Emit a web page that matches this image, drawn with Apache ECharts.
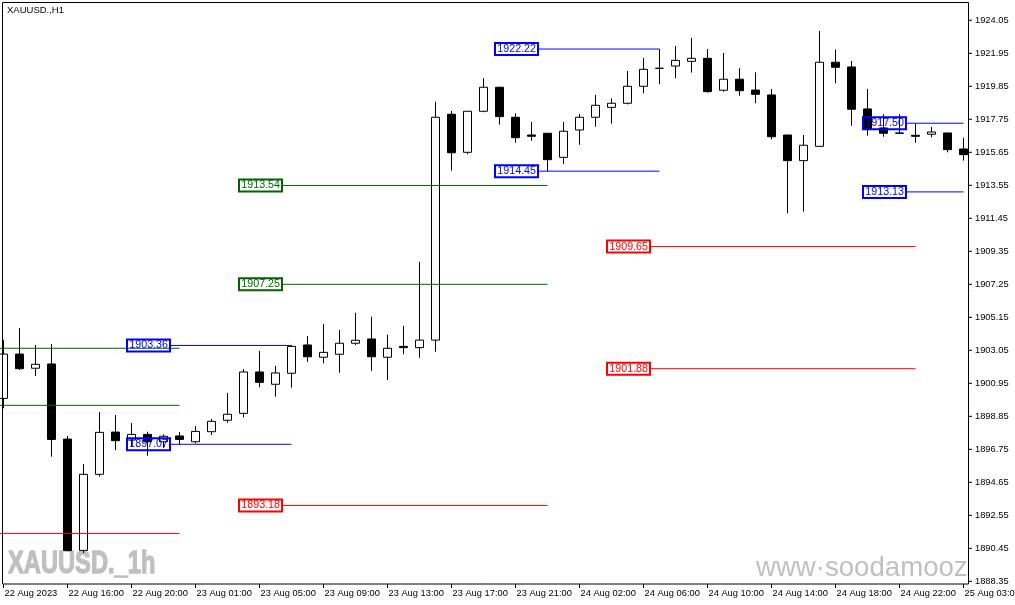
<!DOCTYPE html>
<html>
<head>
<meta charset="utf-8">
<script src="https://cdn.jsdelivr.net/npm/echarts@6/dist/echarts.min.js"></script>
<style>
html,body{margin:0;padding:0;background:#ffffff;}
#chart{width:1015px;height:605px;}
</style>
</head>
<body>
<div id="chart"></div>
<script>
// ---------------- DATA ----------------
const categories = [
  '22 Aug 12:00','22 Aug 13:00','22 Aug 14:00','22 Aug 15:00','22 Aug 16:00','22 Aug 17:00','22 Aug 18:00','22 Aug 19:00',
  '22 Aug 20:00','22 Aug 21:00','22 Aug 22:00','22 Aug 23:00',
  '23 Aug 01:00','23 Aug 02:00','23 Aug 03:00','23 Aug 04:00','23 Aug 05:00','23 Aug 06:00','23 Aug 07:00','23 Aug 08:00',
  '23 Aug 09:00','23 Aug 10:00','23 Aug 11:00','23 Aug 12:00','23 Aug 13:00','23 Aug 14:00','23 Aug 15:00','23 Aug 16:00',
  '23 Aug 17:00','23 Aug 18:00','23 Aug 19:00','23 Aug 20:00','23 Aug 21:00','23 Aug 22:00','23 Aug 23:00',
  '24 Aug 01:00','24 Aug 02:00','24 Aug 03:00','24 Aug 04:00','24 Aug 05:00','24 Aug 06:00','24 Aug 07:00','24 Aug 08:00',
  '24 Aug 09:00','24 Aug 10:00','24 Aug 11:00','24 Aug 12:00','24 Aug 13:00','24 Aug 14:00','24 Aug 15:00','24 Aug 16:00',
  '24 Aug 17:00','24 Aug 18:00','24 Aug 19:00','24 Aug 20:00','24 Aug 21:00','24 Aug 22:00','24 Aug 23:00',
  '25 Aug 01:00','25 Aug 02:00','25 Aug 03:00'
];
const firstCategoryLabel = '22 Aug 2023';

const opens = [
  1899.99,1902.81,1901.91,1902.18,1897.40,1890.32,1895.16,1897.85,1897.34,1897.70,
  1897.23,1897.60,1897.23,1897.87,1898.60,1899.04,1901.67,1900.89,1901.59,1903.39,
  1902.61,1902.80,1903.50,1903.77,1902.61,1903.30,1903.22,1903.70,1918.07,1915.65,
  1918.26,1919.79,1917.88,1916.75,1916.86,1915.33,1917.07,1917.88,1918.51,1918.77,
  1919.85,1920.99,1921.14,1921.44,1921.63,1919.60,1920.30,1919.61,1919.30,1916.75,
  1915.12,1916.03,1921.38,1921.08,1918.41,1917.20,1916.88,1916.73,1916.80,1916.88,
  1915.86
];
const highs = [
  1903.72,1904.47,1903.39,1903.45,1897.60,1895.81,1899.12,1898.93,1898.42,1897.87,
  1897.70,1897.85,1898.23,1898.68,1900.33,1901.86,1903.01,1902.05,1903.36,1903.96,
  1904.72,1904.34,1905.44,1905.19,1904.04,1904.60,1908.68,1918.87,1918.28,1918.27,
  1920.36,1919.82,1918.13,1917.58,1916.86,1917.58,1918.09,1919.30,1919.09,1920.82,
  1921.65,1922.22,1922.41,1922.92,1922.22,1921.97,1921.00,1920.74,1919.68,1916.75,
  1916.75,1923.37,1922.20,1921.46,1919.68,1918.07,1918.07,1917.47,1917.26,1916.88,
  1916.58
];
const lows = [
  1899.36,1901.80,1901.42,1896.28,1890.25,1890.15,1895.01,1896.70,1896.96,1896.34,
  1896.83,1897.07,1897.13,1897.66,1898.44,1898.78,1900.70,1900.10,1900.67,1902.32,
  1902.22,1901.62,1903.39,1901.75,1901.16,1902.80,1902.58,1902.96,1914.48,1915.52,
  1918.20,1917.41,1916.26,1916.39,1914.45,1914.90,1916.13,1917.28,1917.47,1918.70,
  1919.40,1919.98,1920.36,1920.72,1919.44,1919.51,1919.25,1918.77,1916.48,1911.77,
  1911.87,1916.00,1920.04,1917.34,1916.71,1916.64,1916.82,1916.26,1916.61,1915.65,
  1915.12
];
const closes = [
  1902.81,1901.88,1902.16,1897.38,1890.30,1895.16,1897.83,1897.30,1897.70,1897.23,
  1897.58,1897.38,1897.89,1898.53,1898.98,1901.67,1901.01,1901.61,1903.30,1902.64,
  1902.92,1903.50,1903.69,1902.64,1903.18,1903.22,1903.70,1917.88,1915.62,1918.26,
  1919.79,1917.92,1916.58,1916.67,1915.18,1916.99,1917.88,1918.64,1918.77,1919.85,
  1920.93,1921.00,1921.50,1921.63,1919.51,1920.30,1919.57,1919.34,1916.64,1915.12,
  1916.10,1921.38,1921.06,1918.39,1917.13,1916.86,1916.86,1916.67,1916.94,1915.82,
  1915.50
];

// price-axis ticks
const yTickValues = [
  1888.35,1890.45,1892.55,1894.65,1896.75,1898.85,1900.95,1903.05,1905.15,
  1907.25,1909.35,1911.45,1913.55,1915.65,1917.75,1919.85,1921.95,1924.05
];
const yMin = 1888.18;
const yMax = 1925.15;

// horizontal levels (start/end are bar indices; null start = from left edge)
const levelPrices  = [1903.36,1897.07,1913.54,1907.25,1893.18,1922.22,1914.45,1909.65,1901.88,1917.50,1913.13,1903.18,1899.55,1891.40];
const levelStart   = [8,8,15,15,15,31,31,38,38,54,54,null,null,null];
const levelEnd     = [18,18,34,34,34,41,41,57,57,60,60,11,11,11];
const levelKind    = ['blue','blue','green','green','red','blue','blue','red','red','blue','blue','green','green','red'];
const levelLabeled = [true,true,true,true,true,true,true,true,true,true,true,false,false,false];

const titleText = 'XAUUSD.,H1';
const watermarkSymbol = 'XAUUSD._1h';
const watermarkSite = 'www·soodamooz';

// ---------------- STYLE ----------------
const LEVEL_STYLE = {
  blue:  {line:'#0000ff', text:'#0000ff'},
  green: {line:'#006400', text:'#006400'},
  red:   {line:'#ff0000', text:'#ff0000'}
};
const FONT = '"Liberation Sans", Arial, sans-serif';
const BAR_PX = 16;          // one bar slot in px
const BOX_W = 43;           // label box width px
const BOX_SHIFT = 4.5;      // label box starts this many px left of its bar centre
const AXIS_INSET_PX = 2.5;  // price axis line sits this far inside the last slot edge
const TICK_PX = 4;          // price tick length
const N = categories.length;

const candleData = opens.map((o, i) => [o, closes[i], lows[i], highs[i]]);

const levelSeries = levelPrices.map((p, i) => {
  const st = LEVEL_STYLE[levelKind[i]];
  const x0 = levelStart[i] === null ? -0.5 : levelStart[i] + (BOX_W - BOX_SHIFT) / BAR_PX;
  const first = {value: [x0, p]};
  if (levelLabeled[i]) {
    first.label = {
      show: true, position: 'left', distance: 0,
      formatter: p.toFixed(2),
      color: st.text, fontFamily: FONT, fontSize: 10.7,
      borderColor: st.line, borderWidth: 1,
      padding: [1, 2, 1, 2], lineHeight: 10, width: 39,
      backgroundColor: 'transparent'
    };
  }
  return {
    type: 'line', xAxisIndex: 1, yAxisIndex: 0, z: 3,
    symbol: 'rect', symbolSize: 0, showSymbol: true, silent: true, animation: false,
    lineStyle: {color: st.line, width: 1},
    itemStyle: {color: st.line},
    label: {show: false},
    data: [first, {value: [levelEnd[i], p]}]
  };
});

// price-axis tick marks drawn as short segments outside the plot
const tickX0 = N - 0.5 - AXIS_INSET_PX / BAR_PX;
const tickX1 = tickX0 + TICK_PX / BAR_PX;
const tickSeries = yTickValues.map(v => ({
  type: 'line', xAxisIndex: 1, yAxisIndex: 0, z: 4, clip: false,
  symbol: 'none', silent: true, animation: false,
  lineStyle: {color: '#000', width: 1},
  data: [[tickX0, v], [tickX1, v]]
}));

const chart = echarts.init(document.getElementById('chart'), null, {renderer: 'canvas'});
chart.setOption({
  animation: false,
  backgroundColor: '#ffffff',
  grid: {left: -4.5, right: 43.5, top: 3, bottom: 21, containLabel: false, outerBoundsMode: 'none'},
  xAxis: [{
    type: 'category', data: categories, boundaryGap: true, gridIndex: 0,
    axisLine: {show: false},
    axisTick: {show: true, alignWithLabel: true, interval: 3, length: 4, lineStyle: {color: '#000', width: 1}},
    axisLabel: {
      interval: 3, align: 'left', margin: 5, padding: [0, 0, 0, 1],
      color: '#000', fontFamily: FONT, fontSize: 9.3,
      formatter: (v, idx) => idx === 0 ? firstCategoryLabel : v
    },
    splitLine: {show: false}
  }, {
    type: 'value', gridIndex: 0, min: -0.5, max: N - 0.5, show: false
  }],
  yAxis: [{
    type: 'value', position: 'right', offset: -AXIS_INSET_PX, min: yMin, max: yMax,
    splitLine: {show: false},
    axisLine: {show: false},
    axisTick: {show: false},
    axisLabel: {
      customValues: yTickValues, margin: 6,
      color: '#000', fontFamily: FONT, fontSize: 9.3,
      formatter: v => v.toFixed(2)
    },
    minorTick: {show: false}
  }],
  series: [{
    type: 'candlestick', xAxisIndex: 0, yAxisIndex: 0, z: 2,
    barWidth: 9, silent: true,
    itemStyle: {color: '#ffffff', color0: '#000000', borderColor: '#000000', borderColor0: '#000000', borderWidth: 1},
    data: candleData
  }].concat(levelSeries, tickSeries),
  graphic: [
    {type: 'rect', z: 100, silent: true, shape: {x: 2.5, y: 2.5, width: 966, height: 581.5},
     style: {fill: 'none', stroke: '#000', lineWidth: 1}},
    {type: 'text', z: 100, silent: true, x: 7, y: 5,
     style: {text: titleText, font: '9.5px ' + FONT, fill: '#000'}},
    {type: 'text', z: 1, silent: true, x: 8, y: 564, scaleX: 0.74,
     style: {text: watermarkSymbol, font: 'bold 32px ' + FONT, fill: '#c0c0c0', stroke: '#c0c0c0', lineWidth: 1.3, verticalAlign: 'middle', textVerticalAlign: 'middle'}},
    {type: 'text', z: 1, silent: true, x: 756, y: 568,
     style: {text: watermarkSite, font: '27.6px ' + FONT, fill: '#c0c0c0', verticalAlign: 'middle', textVerticalAlign: 'middle'}}
  ]
});
</script>
</body>
</html>
